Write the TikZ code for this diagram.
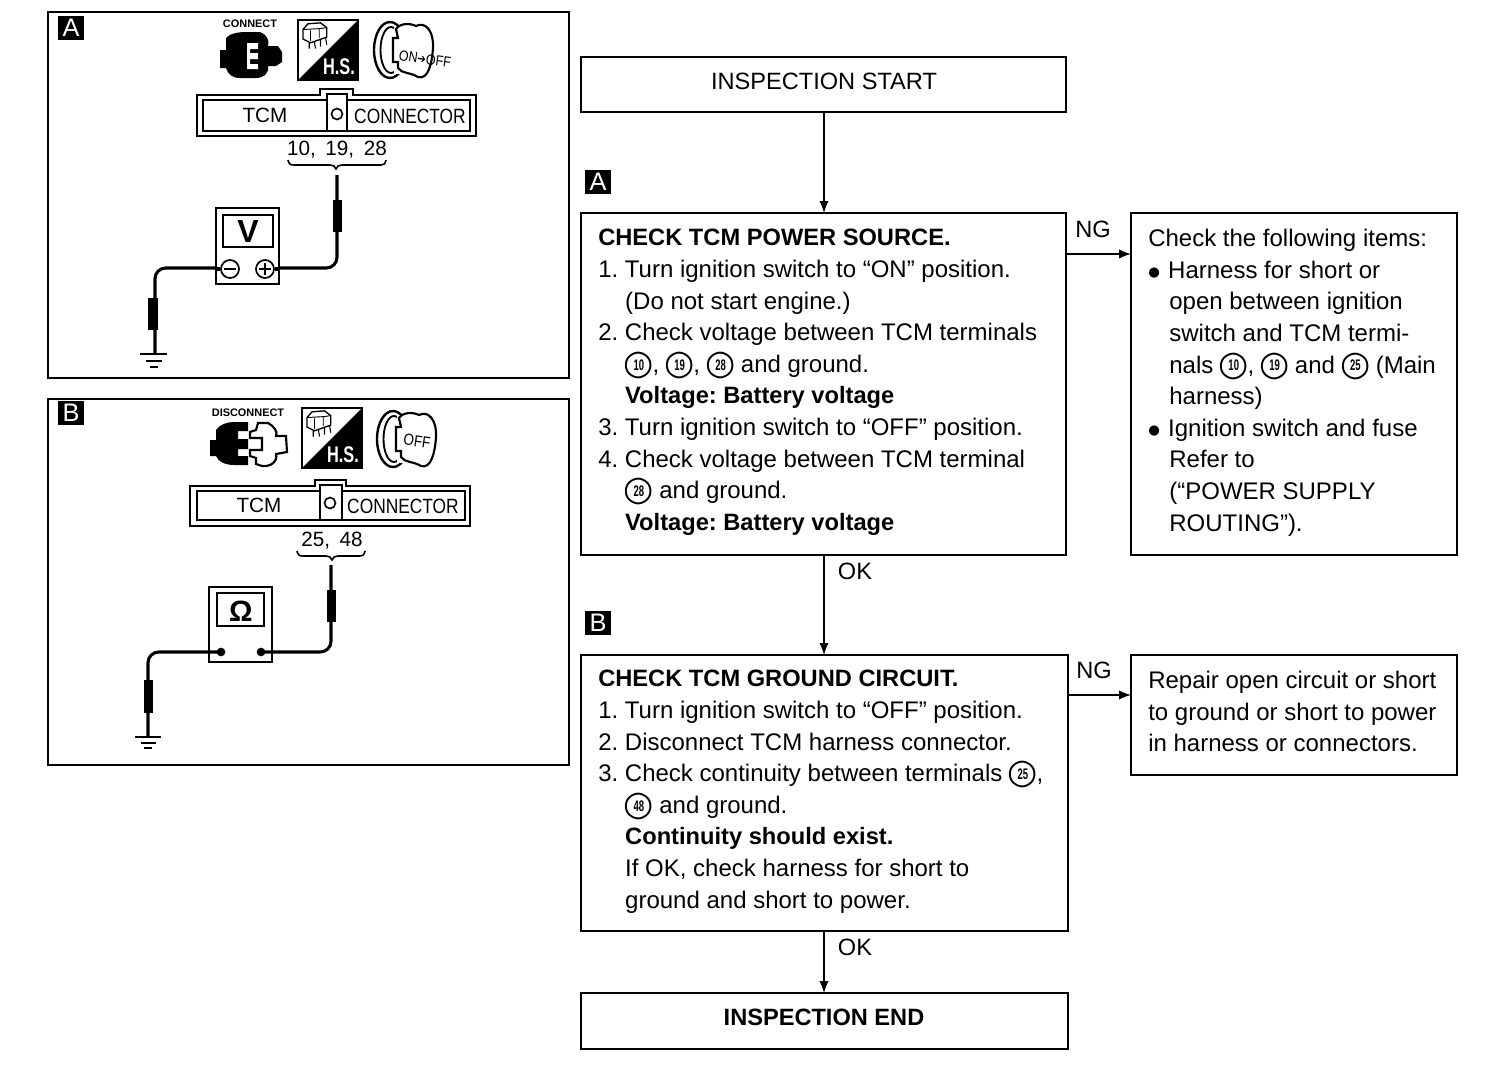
\documentclass[tikz,border=0pt]{standalone}
\usepackage{fontspec}
\setmainfont{Liberation Sans}
\newfontfamily\dejavu{DejaVu Sans}
\newcommand{\flowfont}{\frenchspacing\fontsize{17.7pt}{23.7pt}\selectfont}
\newcommand{\bodyfont}{\frenchspacing\fontsize{18pt}{23.7pt}\selectfont}
\newcommand{\bfs}{\fontsize{17.75pt}{23.7pt}\selectfont\bfseries}
\newcommand{\cn}[1]{\smash{\makebox[20.6pt][c]{\ooalign{\hfil{\dejavu\fontsize{26pt}{26pt}\selectfont\raisebox{-1.5pt}{\char"25CB}}\hfil\cr\hfil\raisebox{1.6pt}{\scalebox{.62}[1]{\fontsize{11.5pt}{11.5pt}\selectfont\bfseries #1}}\hfil\cr}}}}
\newcommand{\ind}{\hspace*{20.2pt}}
\newcommand{\indr}{\hspace*{15.8pt}}
\newcommand{\bul}{{\dejavu\fontsize{10pt}{10pt}\selectfont\raisebox{1pt}{●}}\hspace*{6.2pt}}
\tikzset{
  x=0.75pt,y=-0.75pt,
  flowbox/.style={draw=black,line width=1.5pt,anchor=north west,inner sep=0pt,outer sep=0pt},
  flowtext/.style={anchor=north west,inner sep=0pt,align=left,font=\bodyfont},
  flow/.style={draw=black,line width=1pt,-{Latex[length=9pt,width=7pt]}},
  lbl/.style={inner sep=0pt,font=\flowfont},
  tag/.style={fill=black,text=white,inner sep=0pt,minimum width=20pt,minimum height=18.5pt,font=\fontsize{19pt}{19pt}\selectfont},
  wire/.style={line width=2.3pt,rounded corners=8pt},
  thinwire/.style={line width=2.3pt},
  probe/.style={fill=black,draw=none},
  strip/.style={draw=black,line width=1.5pt,fill=white},
  striptxt/.style={inner sep=0pt,font=\fontsize{15.5pt}{15.5pt}\selectfont},
  gbar/.style={line width=1.8pt},
  mini/.style={inner sep=0pt,font=\fontsize{8.2pt}{8.2pt}\selectfont\bfseries},
}
\usetikzlibrary{arrows.meta}
% H.S. icon: top-left corner at #1
\newcommand{\hsicon}[2]{%
\begin{scope}[shift={(#1)}]
\draw[line width=1.3pt,fill=white] (0,0) rectangle (60,60);
\fill (60,0) -- (60,60) -- (0,60) -- cycle;
\node[inner sep=0pt,text=white,font=\fontsize{17pt}{17pt}\selectfont\bfseries] (#2) at (41,47) {\scalebox{.72}[1]{H.S.}};
\begin{scope}[xscale=1.25,yscale=.95]
\draw[line width=1pt,fill=white] (4,10) -- (8,4) -- (18,3) -- (23,8) -- (23,18) -- (10,24) -- (4,20) -- cycle;
\draw[line width=.7pt] (4,10) -- (18,9) -- (23,8) (10,11) -- (10,22) (17,9) -- (17,19);
\draw[line width=.8pt] (9,24) -- (9,30) (13,22) -- (14,30) (18,20) -- (18,28) (22,18) -- (23,26);
\end{scope}
\end{scope}}
% key icon: ring centre at #1
\newcommand{\keyicon}[1]{%
\begin{scope}[shift={(#1)}]
\draw[line width=1.8pt] (0,0) ellipse (16 and 28);
\draw[line width=1.4pt] (1,0) ellipse (10.5 and 23);
\fill[white] (4,-24) rectangle (20,24);
\draw[line width=1.6pt,fill=white] (6,-21) .. controls (10,-27) and (20,-27) .. (26,-24) .. controls (36,-29) and (44,-18) .. (43,-2) .. controls (42,14) and (38,30) .. (28,27) .. controls (20,22) and (12,24) .. (8,18) -- (8,12) -- (3,12) -- (3,-12) -- (8,-12) -- cycle;
\end{scope}}
\begin{document}
\begin{tikzpicture}
\useasboundingbox (0,0) rectangle (1504,1068);
\fill[white] (0,0) rectangle (1504,1068);
% panels
\node[flowbox,minimum width=390.75pt,minimum height=274.5pt] (panelA) at (48,12) {};
\node[flowbox,minimum width=390.75pt,minimum height=274.5pt] (panelB) at (48,399) {};
\node[tag] (tagPA) at (71,28) {A};
\node[tag] (tagPB) at (71,413) {B};
% ---- Panel A icons
\node[mini] (cap1) at (250,23.5) {CONNECT};
\fill (220,50) -- (226,50) -- (226,38) .. controls (230,33) and (240,32) .. (246,32) -- (260,32) .. controls (266,34) and (270,40) .. (268,46) -- (278,46) -- (282,52) -- (282,62) -- (276,66) -- (268,66) .. controls (270,72) and (264,78) .. (256,78) -- (240,78) .. controls (232,78) and (228,74) .. (226,68) -- (220,68) -- cycle;
\fill[white] (247,43) -- (258,43) -- (258,49) -- (250,49) -- (250,53) -- (258,53) -- (258,59) -- (250,59) -- (250,64) -- (258,64) -- (258,69) -- (247,69) -- cycle;
\hsicon{298,20}{hsA}
\keyicon{390,50}
\node[inner sep=0pt,rotate=-8,font=\fontsize{11pt}{11pt}\selectfont] (keyA) at (425,59) {\scalebox{.85}[1]{ON{\dejavu\fontsize{9pt}{9pt}\selectfont\char"2794}OFF}};
% strip A
\draw[strip] (197,95) -- (320,95) -- (320,89) -- (353,89) -- (353,95) -- (476,95) -- (476,136) -- (197,136) -- cycle;
\draw[strip] (203,100) rectangle (470,131);
\draw[strip] (327,94) rectangle (347,131);
\draw[line width=1.2pt] (337,114) circle (5.5);
\node[striptxt] (tcmA) at (265,115) {TCM};
\node[striptxt] (conA) at (410,116) {\scalebox{.84}[1]{CONNECTOR}};
\node[striptxt] (numA) at (337,150) {10,\hspace{3pt} 19,\hspace{3pt} 28};
\draw[line width=1.2pt] (288,160) .. controls (289,164) and (290,165) .. (294,165) -- (330,165) .. controls (333,165) and (335,166) .. (336,169) .. controls (337,166) and (339,165) .. (342,165) -- (381,165) .. controls (384,165) and (385,164) .. (386,160);
% wires A
\draw[wire] (337,175) -- (337,268) -- (155,268) -- (155,354);
\fill[probe] (333,200) rectangle (342,232);
\fill[probe] (148,298) rectangle (158,330);
\draw[gbar] (140,354) -- (167,354) (146,361) -- (162,361);
\draw[line width=2pt] (150,367) -- (158,367);
% meter A
\node[flowbox,fill=white,minimum width=47pt,minimum height=57pt] (meterA) at (216,208) {};
\node[flowbox,line width=1.3pt,minimum width=37.5pt,minimum height=24pt] (dispA) at (223,215) {};
\node[inner sep=0pt,font=\fontsize{24pt}{24pt}\selectfont\bfseries] (vA) at (248,231) {V};
\node[draw=black,fill=white,line width=1.3pt,circle,minimum size=13.5pt,inner sep=0pt] (minusA) at (230,269) {};
\node[draw=black,fill=white,line width=1.3pt,circle,minimum size=13.5pt,inner sep=0pt] (plusA) at (265,269) {};
\draw[line width=1.4pt] (224,269) -- (236,269) (259,269) -- (271,269) (265,263) -- (265,275);
\draw[thinwire] (minusA.west) -- (minusA.west -| meterA.west);
\draw[thinwire] (plusA.east) -- (plusA.east -| meterA.east);
% ---- Panel B icons
\node[mini] (cap2) at (248,412.5) {DISCONNECT};
\fill (210,440) -- (216,440) -- (216,430) .. controls (220,424) and (228,422) .. (234,422) -- (248,422) -- (248,431) -- (238,431) -- (238,439) -- (248,439) -- (248,449) -- (238,449) -- (238,456) -- (248,456) -- (248,465) -- (234,465) .. controls (226,465) and (218,462) .. (216,456) -- (210,456) -- cycle;
\draw[line width=1.6pt,fill=white] (258,423) -- (268,423) .. controls (274,426) and (278,432) .. (276,436) -- (286,436) -- (287,452) -- (276,454) .. controls (278,462) and (270,467) .. (262,466) -- (256,464) -- (256,458) -- (250,456) -- (250,450) -- (262,450) -- (262,438) -- (250,438) -- (250,432) -- (256,430) -- cycle;
\hsicon{302,408}{hsB}
\keyicon{393,439}
\node[inner sep=0pt,rotate=-8,font=\fontsize{12pt}{12pt}\selectfont] (keyB) at (417,441) {\scalebox{.85}[1]{OFF}};
% strip B
\draw[strip] (190,486) -- (315,486) -- (315,480) -- (346,480) -- (346,486) -- (470,486) -- (470,526) -- (190,526) -- cycle;
\draw[strip] (197,491) rectangle (465,520);
\draw[strip] (320,485) rectangle (342,520);
\draw[line width=1.2pt] (330,503) circle (5.5);
\node[striptxt] (tcmB) at (259,505) {TCM};
\node[striptxt] (conB) at (403,506) {\scalebox{.84}[1]{CONNECTOR}};
\node[striptxt] (numB) at (332,541) {25,\hspace{3pt} 48};
\draw[line width=1.2pt] (297,551) .. controls (298,555) and (299,556) .. (303,556) -- (326,556) .. controls (329,556) and (331,557) .. (332,560) .. controls (333,557) and (335,556) .. (338,556) -- (360,556) .. controls (363,556) and (364,555) .. (365,551);
% wires B
\draw[wire] (331,565) -- (331,652) -- (148,652) -- (148,737);
\fill[probe] (327,590) rectangle (336,622);
\fill[probe] (144,680) rectangle (153,713);
\draw[gbar] (135,737) -- (161,737) (141,743) -- (156,743);
\draw[line width=2pt] (144,748) -- (152,748);
% meter B
\node[flowbox,fill=none,minimum width=47pt,minimum height=56pt] (meterB) at (209,587) {};
\fill[white] (222,649) rectangle (260,655);
\node[flowbox,line width=1.3pt,minimum width=35pt,minimum height=24.5pt] (dispB) at (217,593) {};
\node[inner sep=0pt,font=\fontsize{22pt}{22pt}\selectfont\bfseries] (oB) at (241,611) {Ω};
\node[fill=black,circle,minimum size=6.5pt,inner sep=0pt] (dotL) at (221,652) {};
\node[fill=black,circle,minimum size=6.5pt,inner sep=0pt] (dotR) at (261,652) {};
% ---- Flow boxes
\node[flowbox,minimum width=364pt,minimum height=41.25pt] (start) at (581,57) {};
\node[inner sep=0pt,font=\flowfont] (startT) at (824,81) {INSPECTION START};
\node[tag] (tagA) at (598,182) {A};
\node[flowbox,minimum width=364pt,minimum height=256.5pt] (checkA) at (581,213) {};
\node[flowtext] (checkAT) at (598,229) {{\bfs CHECK TCM POWER SOURCE.}\\
1. Turn ignition switch to “ON” position.\\
\ind(Do not start engine.)\\
2. Check voltage between TCM terminals\\
\ind\cn{10}, \cn{19}, \cn{28} and ground.\\
\ind{\bfs Voltage: Battery voltage}\\
3. Turn ignition switch to “OFF” position.\\
4. Check voltage between TCM terminal\\
\ind\cn{28} and ground.\\
\ind{\bfs Voltage: Battery voltage}};
\node[flowbox,minimum width=244.5pt,minimum height=256.5pt] (ngA) at (1131,213) {};
\node[flowtext] (ngAT) at (1148,229) {Check the following items:\\
\bul Harness for short or\\
\indr open between ignition\\
\indr switch and TCM termi-\\
\indr nals \cn{10}, \cn{19} and \cn{25} (Main\\
\indr harness)\\
\bul Ignition switch and fuse\\
\indr Refer to\\
\indr (“POWER SUPPLY\\
\indr ROUTING”).};
\node[tag] (tagB) at (598,623) {B};
\node[flowbox,minimum width=365.25pt,minimum height=207pt] (checkB) at (581,655) {};
\node[flowtext] (checkBT) at (598,670) {{\bfs CHECK TCM GROUND CIRCUIT.}\\
1. Turn ignition switch to “OFF” position.\\
2. Disconnect TCM harness connector.\\
3. Check continuity between terminals \cn{25},\\
\ind\cn{48} and ground.\\
\ind{\bfs Continuity should exist.}\\
\ind If OK, check harness for short to\\
\ind ground and short to power.};
\node[flowbox,minimum width=244.5pt,minimum height=90pt] (ngB) at (1131,655) {};
\node[flowtext] (ngBT) at (1148,671) {Repair open circuit or short\\
to ground or short to power\\
in harness or connectors.};
\node[flowbox,minimum width=365.25pt,minimum height=42pt] (finish) at (581,993) {};
\node[inner sep=0pt,font=\flowfont\bfseries] (finishT) at (824,1017) {INSPECTION END};
% ---- connectors
\coordinate (ngAfrom) at (1066,254);
\coordinate (ngBfrom) at (1068,695);
\draw[flow] (start.south -| 824,0) -- (checkA.north -| 824,0);
\draw[flow] (checkA.south -| 824,0) -- (checkB.north -| 824,0);
\draw[flow] (checkB.south -| 824,0) -- (finish.north -| 824,0);
\draw[flow] (ngAfrom) -- (ngAfrom -| ngA.west);
\draw[flow] (ngBfrom) -- (ngBfrom -| ngB.west);
\node[lbl] (ng1) at (1093,229) {NG};
\node[lbl] (ok1) at (855,571) {OK};
\node[lbl] (ng2) at (1094,670) {NG};
\node[lbl] (ok2) at (855,947) {OK};
\end{tikzpicture}
\end{document}
